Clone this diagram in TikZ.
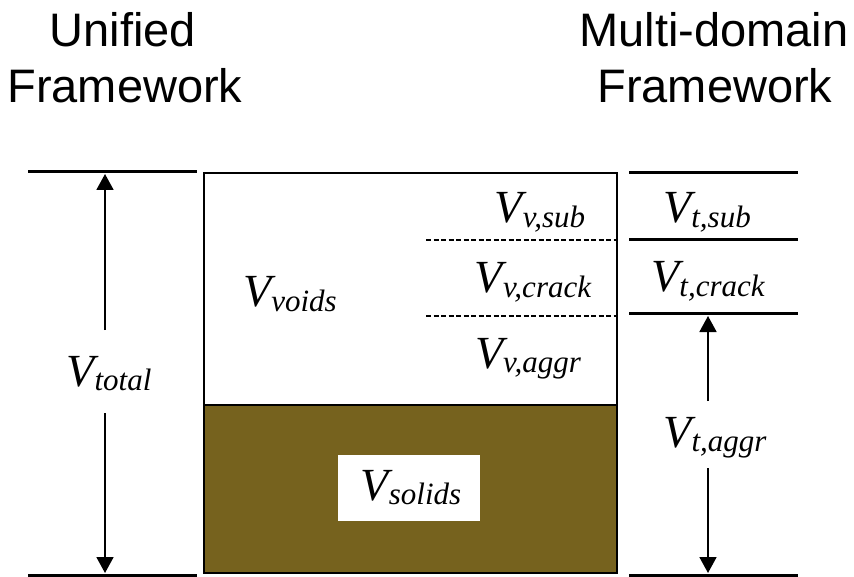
\documentclass[tikz,border=0pt]{standalone}
\usepackage{fontspec}
\newfontfamily\headfont{Liberation Sans}
\newfontfamily\volfont{Liberation Serif}[UprightFont=*-Italic]
\usetikzlibrary{arrows.meta}

\definecolor{solidfill}{RGB}{118,98,30}

% italic volume symbol V with a lowered, smaller subscript
\newcommand\volsym[1]{{\volfont\fontsize{46}{46}\selectfont V\raisebox{-0.1em}{\fontsize{31}{31}\selectfont #1}}}

\tikzset{
  heading/.style={font=\headfont\fontsize{47}{56}\selectfont, align=center, inner sep=0pt},
  vol/.style={inner sep=0pt, anchor=base},
  level/.style={line width=3pt},
  dim/.style={line width=1.8pt, -{Triangle[length=16pt,width=17pt]}},
  sep/.style={line width=2pt, dash pattern=on 5pt off 2.5pt},
}

\begin{document}
\begin{tikzpicture}[x=1pt,y=-1pt]
\useasboundingbox (0,0) rectangle (854,577);

% headings
\node[heading, anchor=base] (uni1) at (123,47) {Unified};
\node[heading, anchor=base] (uni2) at (125,103) {Framework};
\node[heading, anchor=base] (mul1) at (714,47) {Multi-domain};
\node[heading, anchor=base] (mul2) at (715,103) {Framework};

% central column: voids above, solids below
\filldraw[fill=white, draw=black, line width=1.8pt] (204,173) rectangle (617,405);
\filldraw[fill=solidfill, draw=black, line width=2.2pt] (204,405) rectangle (617,573);
\draw[sep] (426,240) -- (617,240);
\draw[sep] (426,316) -- (617,316);

\node[vol] (vsub) at (540,223) {\volsym{v,sub}};
\node[vol] (vcrack) at (533,293) {\volsym{v,crack}};
\node[vol] (vaggr) at (528,368) {\volsym{v,aggr}};
\node[vol] (voids) at (290,307) {\volsym{voids}};

\node[fill=white, minimum width=142pt, minimum height=66pt, inner sep=0pt] (solbox) at (409,488) {};
\node[vol] (solids) at (411,500) {\volsym{solids}};

% left: total volume
\coordinate (ltop-a) at (28,172);
\coordinate (ltop-b) at (197,172);
\coordinate (lbot-a) at (28,575);
\coordinate (lbot-b) at (197,575);
\draw[level] (ltop-a) -- (ltop-b);
\draw[level] (lbot-a) -- (lbot-b);
\node[vol] (vtotal) at (109,386) {\volsym{total}};
\coordinate (tot-up) at (105,330);
\coordinate (tot-upend) at (105,174);
\coordinate (tot-dn) at (105,413);
\coordinate (tot-dnend) at (105,573);
\draw[dim] (tot-up) -- (tot-upend);
\draw[dim] (tot-dn) -- (tot-dnend);

% right: multi-domain levels
\coordinate (r1a) at (629,173); \coordinate (r1b) at (798,173);
\coordinate (r2a) at (629,240); \coordinate (r2b) at (798,240);
\coordinate (r3a) at (629,314); \coordinate (r3b) at (798,314);
\coordinate (r4a) at (629,575); \coordinate (r4b) at (798,575);
\draw[level] (r1a) -- (r1b);
\draw[level] (r2a) -- (r2b);
\draw[level] (r3a) -- (r3b);
\draw[level] (r4a) -- (r4b);

\node[vol] (tsub) at (707,223) {\volsym{t,sub}};
\node[vol] (tcrack) at (708,292) {\volsym{t,crack}};
\node[vol] (taggr) at (715,447) {\volsym{t,aggr}};
\coordinate (agg-up) at (708,401);
\coordinate (agg-upend) at (708,316);
\coordinate (agg-dn) at (708,468);
\coordinate (agg-dnend) at (708,573);
\draw[dim] (agg-up) -- (agg-upend);
\draw[dim] (agg-dn) -- (agg-dnend);
\end{tikzpicture}
\end{document}
